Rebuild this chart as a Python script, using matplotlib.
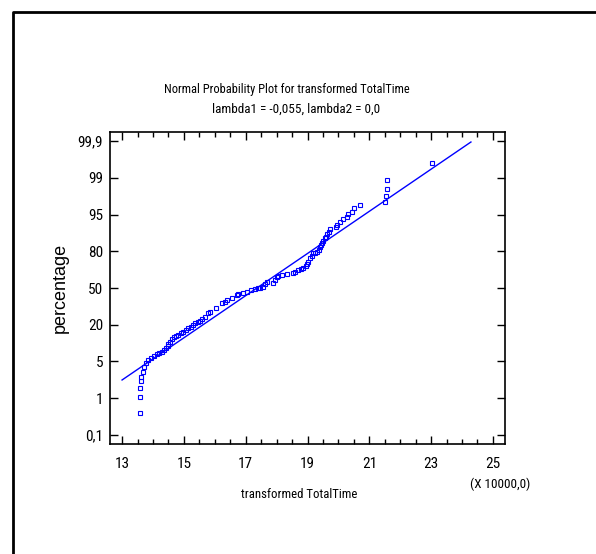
import numpy as np
import matplotlib
matplotlib.use("Agg")
import matplotlib.pyplot as plt
from matplotlib import font_manager as fm
from matplotlib.lines import Line2D
from matplotlib.ticker import MultipleLocator

# narrow font if one is around, the original uses Arial Narrow
narrow = ["Liberation Sans Narrow", "Arial Narrow", "Roboto Condensed",
          "Open Sans Condensed", "Noto Sans Condensed", "DejaVu Sans Condensed"]
names = {f.name for f in fm.fontManager.ttflist}
family = None
for n in narrow:
    if n in names:
        family = n
        break
if family is None:
    cond = [f for f in fm.fontManager.ttflist
            if str(f.stretch) in ("condensed", "semi-condensed", "extra-condensed")
            and f.style == "normal" and "Mono" not in f.name and "Serif" not in f.name]
    if cond:
        family = cond[0].name
        plt.rcParams['font.stretch'] = cond[0].stretch
    else:
        family = "Liberation Sans"
plt.rcParams['font.family'] = [family, 'DejaVu Sans']

### Data (x in units of 10000, y as normal score in tick steps from 50%)

total_time = [13.573, 13.573, 13.573, 13.605, 13.605, 13.670, 13.712, 13.767, 13.851, 13.938,
              14.035, 14.122, 14.206, 14.303, 14.368, 14.433, 14.478, 14.498, 14.553, 14.608,
              14.682, 14.747, 14.821, 14.899, 14.983, 15.070, 15.144, 15.222, 15.296, 15.361,
              15.449, 15.523, 15.578, 15.685, 15.791, 15.846, 16.040, 16.225, 16.332, 16.406,
              16.548, 16.710, 16.762, 16.923, 17.033, 17.163, 17.302, 17.409, 17.464, 17.551,
              17.625, 17.700, 17.894, 17.949, 18.004, 18.056, 18.165, 18.327, 18.521, 18.596,
              18.702, 18.780, 18.864, 18.951, 18.993, 19.026, 19.081, 19.136, 19.188, 19.243,
              19.317, 19.382, 19.404, 19.437, 19.469, 19.511, 19.566, 19.598, 19.640, 19.695,
              19.728, 19.922, 19.964, 20.051, 20.138, 20.268, 20.320, 20.430, 20.504, 20.698,
              21.507, 21.529, 21.562, 21.581, 23.017]
normal_score = [-3.410, -2.974, -2.729, -2.531, -2.414, -2.278, -2.141, -2.033, -1.967, -1.913,
                -1.850, -1.804, -1.777, -1.733, -1.687, -1.641, -1.578, -1.524, -1.461, -1.396,
                -1.341, -1.306, -1.271, -1.233, -1.189, -1.143, -1.097, -1.053, -1.007, -0.961,
                -0.917, -0.890, -0.852, -0.781, -0.688, -0.644, -0.552, -0.416, -0.372, -0.327,
                -0.280, -0.190, -0.163, -0.128, -0.101, -0.054, -0.027, 0.008, 0.000, 0.035,
                0.109, 0.155, 0.128, 0.218, 0.307, 0.335, 0.354, 0.381, 0.416, 0.444,
                0.490, 0.517, 0.552, 0.599, 0.653, 0.716, 0.808, 0.871, 0.944, 0.961,
                0.988, 1.034, 1.107, 1.170, 1.216, 1.287, 1.352, 1.396, 1.469, 1.532,
                1.597, 1.652, 1.714, 1.804, 1.869, 1.940, 2.005, 2.076, 2.169, 2.259,
                2.348, 2.503, 2.694, 2.939, 3.393]

fit_x = [13.0, 24.288]
fit_y = [-2.503, 3.973]

pct_ticks = [-4, -3, -2, -1, 0, 1, 2, 3, 4]
pct_labels = ["0,1", "1", "5", "20", "50", "80", "95", "99", "99,9"]
x_ticks = [13, 15, 17, 19, 21, 23, 25]

### Draw diagram

fig = plt.figure(figsize=(5.96, 5.54), dpi=100)
ax = fig.add_axes([110/596, 1-444/554, 395/596, 312/554])

ax.plot(fit_x, fit_y, color="#0000ff", lw=1.0)
ax.plot(total_time, normal_score, linestyle="none", marker="s", markersize=3.4,
        markerfacecolor="none", markeredgecolor="#0000ff", markeredgewidth=0.8)

ax.set_xlim(12.61, 25.39)
ax.set_ylim(-4.245, 4.245)
ax.set_xticks(x_ticks)
ax.xaxis.set_minor_locator(MultipleLocator(0.5))
ax.set_yticks(pct_ticks)
ax.set_yticklabels(pct_labels)

ax.tick_params(which="major", direction="in", length=6, width=1, top=True, right=True,
               labelsize=11, color="black")
ax.tick_params(which="minor", direction="in", length=3.5, width=1, top=True, right=False)
ax.tick_params(axis="x", which="major", pad=9)
ax.tick_params(axis="y", which="major", pad=5)
for sp in ax.spines.values():
    sp.set_linewidth(1.2)

fig.text(287/596, 1-90/554, "Normal Probability Plot for transformed TotalTime",
         ha="center", va="center", fontsize=8.9)
fig.text(296/596, 1-109/554, "lambda1 = -0,055, lambda2 = 0,0",
         ha="center", va="center", fontsize=9.5)
fig.text(299/596, 1-495/554, "transformed TotalTime", ha="center", va="center", fontsize=9.2)
fig.text(60/596, 1-288/554, "percentage", ha="center", va="center", rotation=90,
         fontsize=13, family=["Liberation Sans", "DejaVu Sans"], stretch="normal")
fig.text(500/596, 1-484/554, "(X 10000,0)", ha="center", va="center", fontsize=9.5)

# outer frame (top and left only)
fig.add_artist(Line2D([13/596, 13/596, 1.0], [0.0, 1-12/554, 1-12/554],
                      transform=fig.transFigure, color="black", lw=2))

fig.savefig("out.png", dpi=100)
